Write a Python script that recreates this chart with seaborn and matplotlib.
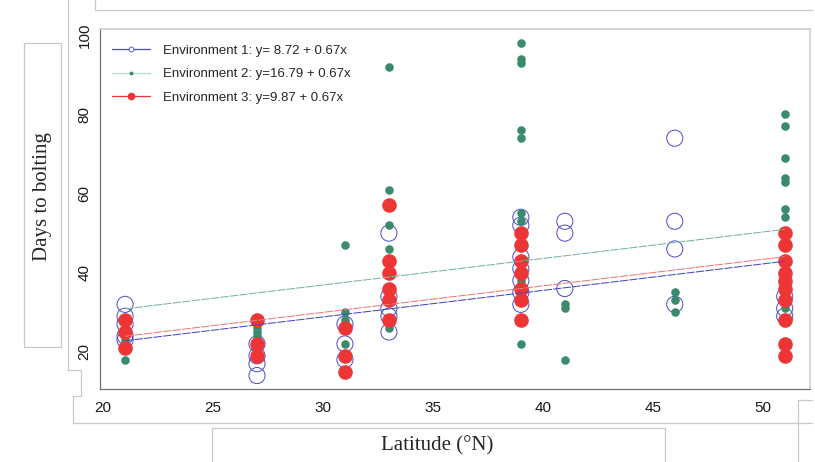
import matplotlib
matplotlib.use('Agg')
import matplotlib.pyplot as plt
from matplotlib.lines import Line2D
import seaborn as sns
import pandas as pd
import numpy as np

# Environment 1 (open blue circles)
lat_env1 = [21, 21, 21, 21, 21, 27, 27, 27, 27, 31, 31, 31,
            33, 33, 33, 33, 33, 39, 39, 39, 39, 39, 39, 39,
            41, 41, 41, 46, 46, 46, 46, 51, 51, 51]
days_env1 = [32, 29, 27, 24, 23, 22, 19, 17, 14, 27, 22, 18,
             50, 34, 31, 29, 25, 54, 52, 44, 41, 38, 35, 32,
             53, 50, 36, 74, 53, 46, 32, 34, 31, 29]

# Environment 2 (small green dots)
lat_env2 = [21, 21, 21, 21, 27, 27, 27, 27, 31, 31, 31, 31,
            33, 33, 33, 33, 33, 33, 39, 39, 39, 39, 39, 39, 39, 39, 39,
            41, 41, 41, 46, 46, 46, 51, 51, 51, 51, 51, 51, 51, 51, 51]
days_env2 = [28, 26, 23, 18, 26, 25, 24, 23, 47, 30, 28, 22,
             92, 61, 52, 46, 28, 26, 98, 94, 93, 76, 74, 55, 53, 38, 22,
             32, 31, 18, 35, 33, 30, 80, 77, 69, 64, 63, 56, 54, 48, 31]

# Environment 3 (filled red circles)
lat_env3 = [21, 21, 21, 27, 27, 27, 31, 31, 31,
            33, 33, 33, 33, 33, 33, 39, 39, 39, 39, 39, 39, 39,
            51, 51, 51, 51, 51, 51, 51, 51, 51, 51]
days_env3 = [28, 25, 21, 28, 22, 19, 26, 19, 15,
             57, 43, 40, 36, 33, 28, 50, 47, 43, 40, 36, 33, 28,
             50, 47, 43, 40, 38, 36, 33, 28, 22, 19]

# fitted lines given in the legend
intercepts = [8.72, 16.79, 9.87]
slopes = [0.67, 0.67, 0.67]
labels = ['Environment 1: y= 8.72 + 0.67x',
          'Environment 2: y=16.79 + 0.67x',
          'Environment 3: y=9.87 + 0.67x']
fit_range = [21, 51]

blue = '#4a4ac8'
green = '#3b8a6c'
red = '#ee3535'
line_cols = ['#4848c0', '#7ab49c', '#f27878']

sns.set_style('white')
plt.rcParams['font.family'] = ['Liberation Sans', 'DejaVu Sans']

fig = plt.figure(figsize=(8.15, 4.62), dpi=100)
ax = fig.add_axes([100 / 815, 1 - 389 / 462, 710 / 815, 360 / 462])

df1 = pd.DataFrame({'lat': lat_env1, 'days': days_env1})
df2 = pd.DataFrame({'lat': lat_env2, 'days': days_env2})
df3 = pd.DataFrame({'lat': lat_env3, 'days': days_env3})

sns.scatterplot(data=df1, x='lat', y='days', ax=ax, s=135, marker='o',
                facecolor='none', edgecolor=blue, linewidth=0.7, zorder=2)
sns.scatterplot(data=df2, x='lat', y='days', ax=ax, s=38, color=green,
                edgecolor=green, linewidth=0, zorder=3)
sns.scatterplot(data=df3, x='lat', y='days', ax=ax, s=110, color=red,
                edgecolor=red, linewidth=0, zorder=4)

for b0, b1, c in zip(intercepts, slopes, line_cols):
    xs = np.array(fit_range, dtype=float)
    sns.lineplot(x=xs, y=b0 + b1 * xs, ax=ax, color=c, lw=0.75,
                 linestyle=(0, (8, 1.2)), zorder=5)

ax.set_xlim(19.86, 52.15)
ax.set_ylim(10.6, 101.6)
ax.set_xticks([20, 25, 30, 35, 40, 45, 50])
ax.set_yticks([20, 40, 60, 80, 100])
ax.tick_params(axis='both', labelsize=11, length=3, width=0.6,
               color='#606060', labelcolor='#1a1a1a', direction='out')
ax.tick_params(axis='x', pad=6)
ax.tick_params(axis='y', labelrotation=90, pad=3)
for t in ax.get_yticklabels():
    t.set_va('center')
ax.set_xlabel('')
ax.set_ylabel('')
for side in ['left', 'bottom']:
    ax.spines[side].set_color('#707070')
    ax.spines[side].set_linewidth(0.9)
for side in ['top', 'right']:
    ax.spines[side].set_color('#d0d0d0')
    ax.spines[side].set_linewidth(1.2)

handles = [
    Line2D([], [], color=line_cols[0], lw=0.9, marker='o', markersize=3.5,
           markerfacecolor='white', markeredgecolor=blue, markeredgewidth=0.6),
    Line2D([], [], color='#b8d8cc', lw=0.9, marker='o', markersize=1.8,
           markerfacecolor=green, markeredgecolor=green),
    Line2D([], [], color=red, lw=0.9, marker='o', markersize=4.5,
           markerfacecolor=red, markeredgecolor=red),
]
ax.legend(handles, labels, loc='upper left', frameon=False, fontsize=9.5,
          handlelength=2.9, handletextpad=1.0, labelspacing=0.85,
          bbox_to_anchor=(0.0, 0.99), borderaxespad=0.5)

# axis titles in serif, inside light boxes like the source figure
fig.text(42 / 815, 1 - 197 / 462, 'Days to bolting', rotation=90,
         ha='center', va='center', fontsize=15,
         family=['Liberation Serif', 'DejaVu Serif'])
fig.text(437 / 815, 1 - 446 / 462, 'Latitude (\u00b0N)', ha='center',
         va='center', fontsize=15, family=['Liberation Serif', 'DejaVu Serif'])

gray = '#c8c8c8'


def fline(xs, ys):
    fig.add_artist(Line2D([x / 815 for x in xs], [1 - y / 462 for y in ys],
                          color=gray, lw=0.9))


fline([24, 61, 61, 24, 24], [43, 43, 347, 347, 43])
fline([212, 212, 665, 665], [462, 428, 428, 462])
fline([68, 68, 81, 81], [0, 370, 370, 396])
fline([95, 95, 812], [0, 10, 10])
fline([73, 73, 812], [396, 423, 423])
fline([73, 81], [396, 396])
fline([798, 798, 812], [462, 400, 400])

fig.savefig('out.png', dpi=100)
